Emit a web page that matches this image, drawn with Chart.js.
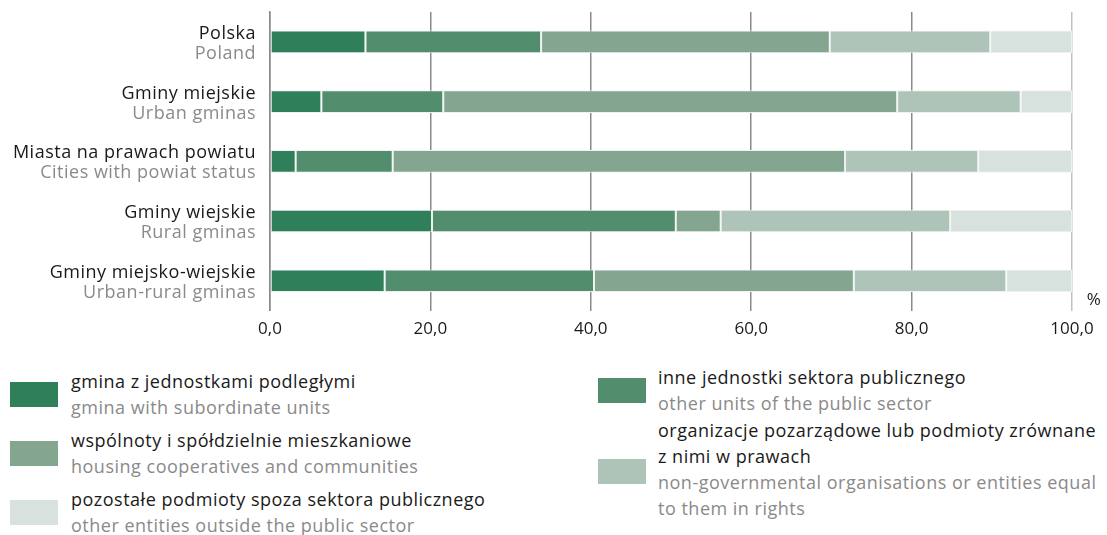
<!DOCTYPE html>
<html>
<head>
<meta charset="utf-8">
<script src="https://cdn.jsdelivr.net/npm/chart.js@4"></script>
<style>
  body { margin: 0; background: #fff; font-family: "Open Sans", sans-serif; }
  #wrap { position: relative; width: 1107px; height: 535px; overflow: hidden; }
  #chart-box { position: absolute; left: 0; top: 0; width: 1107px; height: 355px; }
  .sw { position: absolute; width: 48px; height: 25px; }
  .lg { position: absolute; font-size: 18px; letter-spacing: 0.5px; line-height: 26px; white-space: nowrap; color: #1a1a1a; }
  .lg .en { color: #8a8a8a; }
</style>
</head>
<body>
<div id="wrap">
  <div id="chart-box"><canvas id="bar-chart"></canvas></div>
  <div id="legend"></div>
</div>
<script>
// categories (Polish / English)
const categoriesPl = ['Polska', 'Gminy miejskie', 'Miasta na prawach powiatu', 'Gminy wiejskie', 'Gminy miejsko-wiejskie'];
const categoriesEn = ['Poland', 'Urban gminas', 'Cities with powiat status', 'Rural gminas', 'Urban-rural gminas'];

// series values, %
const gminaUnits   = [11.9, 6.4, 3.2, 20.2, 14.3];
const otherPublic  = [21.9, 15.2, 12.1, 30.4, 26.1];
const housing      = [36.0, 56.6, 56.4, 5.6, 32.4];
const ngo          = [20.0, 15.4, 16.6, 28.6, 19.0];
const otherEntities = [10.2, 6.4, 11.7, 15.2, 8.2];

const xTicks = [0, 20, 40, 60, 80, 100];

const seriesPl = [
  'gmina z jednostkami podległymi',
  'inne jednostki sektora publicznego',
  'wspólnoty i spółdzielnie mieszkaniowe',
  'organizacje pozarządowe lub podmioty zrównane<br>z nimi w prawach',
  'pozostałe podmioty spoza sektora publicznego'
];
const seriesEn = [
  'gmina with subordinate units',
  'other units of the public sector',
  'housing cooperatives and communities',
  'non-governmental organisations or entities equal<br>to them in rights',
  'other entities outside the public sector'
];
const colors = ['#2f7f5a', '#528e6d', '#84a691', '#aec4b8', '#d7e2de'];

const seriesValues = [gminaUnits, otherPublic, housing, ngo, otherEntities];

// two-colour category labels + % sign
const labelPlugin = {
  id: 'twoLineLabels',
  afterDraw(chart) {
    const ctx = chart.ctx;
    const y = chart.scales.y;
    const x = chart.scales.x;
    ctx.save();
    ctx.font = '18px "Open Sans"';
    ctx.letterSpacing = '0.5px';
    ctx.textAlign = 'right';
    ctx.textBaseline = 'alphabetic';
    categoriesPl.forEach((c, i) => {
      const cy = y.getPixelForValue(i);
      ctx.fillStyle = '#1a1a1a';
      ctx.fillText(c, 256, cy - 3);
      ctx.fillStyle = '#8a8a8a';
      ctx.fillText(categoriesEn[i], 256, cy + 17);
    });
    ctx.textAlign = 'center';
    ctx.fillStyle = '#1a1a1a';
    ctx.font = '17px "Open Sans"';
    ctx.fillText('%', x.right + 22, y.bottom - 6);
    ctx.restore();
  }
};

const chart = new Chart(document.getElementById('bar-chart'), {
  type: 'bar',
  data: {
    labels: categoriesPl,
    datasets: seriesValues.map((vals, i) => ({
      label: seriesPl[i],
      data: vals,
      backgroundColor: colors[i],
      borderColor: '#eef2ef',
      borderWidth: 1,
      borderSkipped: false,
      barPercentage: 0.38,
      categoryPercentage: 1
    }))
  },
  options: {
    indexAxis: 'y',
    responsive: true,
    maintainAspectRatio: false,
    animation: false,
    layout: { padding: { left: 270, right: 35, top: 12, bottom: 8 } },
    plugins: { legend: { display: false }, tooltip: { enabled: false } },
    scales: {
      x: {
        stacked: true,
        min: 0,
        max: 100,
        afterBuildTicks: scale => { scale.ticks = xTicks.map(v => ({ value: v })); },
        grid: {
          color: ctx => ctx.tick && ctx.tick.value === 100 ? '#c0c0c0' : '#8a8a8a',
          lineWidth: 1.5,
          drawTicks: false
        },
        border: { display: false },
        ticks: {
          padding: 8,
          color: '#1a1a1a',
          font: { family: 'Open Sans', size: 17 },
          callback: v => v.toFixed(1).replace('.', ',')
        }
      },
      y: {
        stacked: true,
        grid: { display: false },
        border: { display: true, color: '#8a8a8a', width: 1.5 },
        ticks: { display: false },
        afterFit: scale => { scale.width = 0; }
      }
    }
  },
  plugins: [labelPlugin]
});

// legend
const legend = document.getElementById('legend');
const legendPos = [
  { sx: 10, sy: 382, tx: 71, ty: 368 },
  { sx: 598, sy: 378, tx: 658, ty: 364 },
  { sx: 10, sy: 441, tx: 71, ty: 427 },
  { sx: 598, sy: 459, tx: 658, ty: 417 },
  { sx: 10, sy: 500, tx: 71, ty: 486 }
];
seriesPl.forEach((name, i) => {
  const p = legendPos[i];
  const sw = document.createElement('div');
  sw.className = 'sw';
  sw.style.left = p.sx + 'px';
  sw.style.top = p.sy + 'px';
  sw.style.background = colors[i];
  legend.appendChild(sw);
  const t = document.createElement('div');
  t.className = 'lg';
  t.style.left = p.tx + 'px';
  t.style.top = p.ty + 'px';
  t.innerHTML = name + '<br><span class="en">' + seriesEn[i] + '</span>';
  legend.appendChild(t);
});
</script>
</body>
</html>
